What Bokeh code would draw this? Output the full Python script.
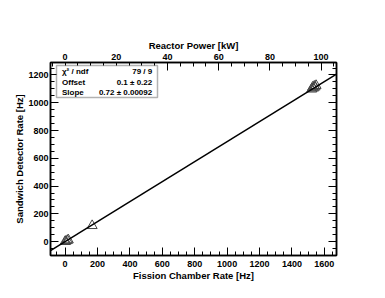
from bokeh.plotting import figure
from bokeh.models import LinearAxis, Range1d, SingleIntervalTicker, BoxAnnotation, Label, Title
from bokeh.embed import file_html
from bokeh.resources import INLINE

# ---- data ----
fission_rate = [0, 5, 14, 20, 167, 1522, 1528, 1533, 1538, 1543, 1549]
sandwich_rate = [0, 2, 8, 12, 115, 1098, 1112, 1105, 1119, 1113, 1124]
fit_offset = 0.1
fit_slope = 0.72
hz_per_kw = 15.8
stat_names = ["\u03c7\u00b2 / ndf", "Offset", "Slope"]
stat_values = ["79 / 9", "0.1 \u00b1 0.22", "0.72 \u00b1 0.00092"]
x_title = "Fission Chamber Rate [Hz]"
y_title = "Sandwich Detector Rate [Hz]"
top_title = "Reactor Power [kW]"

X0, X1 = -90, 1675
Y0, Y1 = -100, 1290

W, H = 378, 290
BL, BR, BT, BB = 50, 42, 62, 35
FW, FH = W - BL - BR, H - BT - BB

FONT = "Liberation Sans"

p = figure(width=W, height=H, output_backend="svg", toolbar_location=None,
           x_range=Range1d(X0, X1), y_range=Range1d(Y0, Y1),
           min_border_left=BL, min_border_right=BR, min_border_top=BT, min_border_bottom=BB,
           y_axis_label=y_title)
p.title.visible = False
p.grid.visible = False
p.outline_line_color = "black"
p.outline_line_width = 1.5
p.background_fill_color = "white"
p.border_fill_color = "white"

p.xaxis.ticker = SingleIntervalTicker(interval=200, num_minor_ticks=4)
p.yaxis.ticker = SingleIntervalTicker(interval=200, num_minor_ticks=4)

p.extra_x_ranges = {"kw": Range1d(X0 / hz_per_kw, X1 / hz_per_kw)}
top = LinearAxis(x_range_name="kw", axis_label=top_title,
                 ticker=SingleIntervalTicker(interval=20, num_minor_ticks=4))
p.add_layout(top, "above")
right = LinearAxis(ticker=SingleIntervalTicker(interval=200, num_minor_ticks=4))
p.add_layout(right, "right")

for ax in p.axis:
    ax.axis_line_color = "black"
    ax.axis_line_width = 1.5
    ax.major_tick_line_color = "black"
    ax.minor_tick_line_color = "black"
    ax.major_tick_line_width = 1
    ax.minor_tick_line_width = 1
    ax.major_tick_in = 8
    ax.major_tick_out = 0
    ax.minor_tick_in = 4
    ax.minor_tick_out = 0
    ax.major_label_text_font = FONT
    ax.major_label_text_font_style = "bold"
    ax.major_label_text_font_size = "9px"
    ax.major_label_text_color = "black"
    ax.axis_label_text_font = FONT
    ax.axis_label_text_font_style = "bold"
    ax.axis_label_text_font_size = "9.5px"
    ax.axis_label_text_color = "black"

right.major_label_text_font_size = "0px"
right.major_label_text_color = None

p.xaxis[0].major_label_standoff = 0
top.major_label_standoff = 3
top.axis_label_standoff = 0
p.yaxis[0].major_label_standoff = 2
p.yaxis[0].axis_label_standoff = 0

# bottom axis title as a below-panel title so it can sit close to the tick labels
p.add_layout(Title(text=x_title, align="center", standoff=-4, offset=0,
                   text_font=FONT, text_font_style="bold", text_font_size="9.5px",
                   text_color="black"), "below")

# data points
p.scatter(fission_rate, sandwich_rate, marker="triangle", size=10,
          fill_color=None, line_color="#444444", line_width=1)

# fit line
fx_ends = [X0, X1]
p.line(fx_ends, [fit_offset + fit_slope * v for v in fx_ends], line_color="black", line_width=1.5)

# positions in frame pixels converted to data
def fx(px):
    return X0 + px * (X1 - X0) / FW

def fy(py):
    return Y1 - py * (Y1 - Y0) / FH

# stats box
box = BoxAnnotation(left=fx(6), right=fx(107), top=fy(3), bottom=fy(35),
                    fill_color="white", fill_alpha=1, line_color="black", line_width=1.5)
p.add_layout(box)

rows_y = [9, 19.5, 29.5]
for name, val, ry in zip(stat_names, stat_values, rows_y):
    p.add_layout(Label(x=fx(11.5), y=fy(ry), text=name, text_align="left", text_baseline="middle",
                       text_font=FONT, text_font_style="bold", text_font_size="8px", text_color="black"))
    p.add_layout(Label(x=fx(101.7), y=fy(ry), text=val, text_align="right", text_baseline="middle",
                       text_font=FONT, text_font_style="bold", text_font_size="8px", text_color="black"))

open("out.html", "w").write(file_html(p, INLINE))
